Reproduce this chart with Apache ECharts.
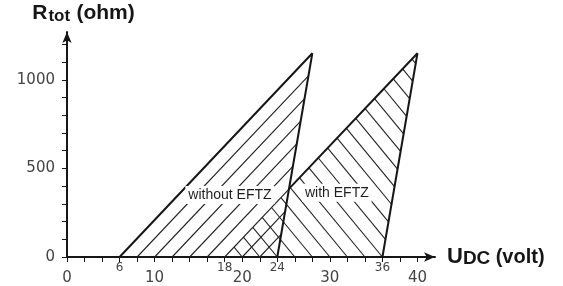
<!DOCTYPE html>
<html>
<head>
<meta charset="utf-8">
<script src="https://cdn.jsdelivr.net/npm/echarts@6/dist/echarts.min.js"></script>
<style>
  html, body { margin: 0; padding: 0; background: #fff; }
  #main { width: 563px; height: 286px; }
</style>
</head>
<body>
<div id="main"></div>
<script>
// triangle corners (volt, ohm)
var withoutEftz = [[6, 0], [28, 1150], [24, 0]];
var withEftz = [[18, 0], [40, 1150], [36, 0]];
// bold outline of the second zone is only drawn outside the first one
var withEftzEdge = [[25.3, 383], [40, 1150], [36, 0]];

var xMainLabels = [0, 10, 20, 30, 40];
var xMarkLabels = [6, 18, 24, 36];
var xTicks = [0, 2, 4, 6, 8, 10, 12, 14, 16, 18, 20, 22, 24, 26, 28, 30, 32, 34, 36, 38, 40];
var yLabels = [0, 500, 1000];
var yTicks = [0, 100, 200, 300, 400, 500, 600, 700, 800, 900, 1000, 1100, 1200];

var zoneNames = ['without EFTZ', 'with EFTZ'];
var zonePos = [[18.6, 350], [30.8, 362]];

var ink = '#161616';

// lines through (b,0) running along dir, cut to a convex polygon
function hatch(poly, dir, from, to, step) {
  var segs = [];
  for (var b = from; b <= to + 1e-9; b += step) {
    var ts = [];
    for (var i = 0; i < poly.length; i++) {
      var p = poly[i], q = poly[(i + 1) % poly.length];
      var ex = q[0] - p[0], ey = q[1] - p[1];
      var den = dir[0] * ey - dir[1] * ex;
      if (Math.abs(den) < 1e-12) continue;
      var wx = p[0] - b, wy = p[1];
      var t = (wx * ey - wy * ex) / den;
      var s = (wx * dir[1] - wy * dir[0]) / den;
      if (s >= -1e-9 && s <= 1 + 1e-9) ts.push(t);
    }
    if (ts.length < 2) continue;
    var t0 = Math.min.apply(null, ts), t1 = Math.max.apply(null, ts);
    if (t1 - t0 < 1e-6) continue;
    segs.push([[b + t0 * dir[0], t0 * dir[1]], [b + t1 * dir[0], t1 * dir[1]]]);
  }
  return segs;
}

function hatchSeries(poly, dir, from, to) {
  return {
    type: 'custom',
    z: 1,
    silent: true,
    data: [poly[0]],
    renderItem: function (params, api) {
      var segs = hatch(poly, dir, from, to, 2);
      return {
        type: 'group',
        children: segs.map(function (sg) {
          var a = api.coord(sg[0]), c = api.coord(sg[1]);
          return {
            type: 'line',
            shape: { x1: a[0], y1: a[1], x2: c[0], y2: c[1] },
            style: { stroke: '#222', lineWidth: 1.1 }
          };
        })
      };
    }
  };
}

function plain(v) { return String(v); }

var chart = echarts.init(document.getElementById('main'));

var option = {
  animation: false,
  backgroundColor: '#fff',
  grid: { left: 67, right: 128, top: 32, bottom: 29 },
  xAxis: [{
    type: 'value', min: 0, max: 42,
    name: '{u|U}{dc|DC} {v|(volt)}',
    nameLocation: 'end', nameGap: 12,
    nameTextStyle: {
      rich: {
        u: { fontFamily: 'Liberation Sans', fontWeight: 'bold', fontSize: 22, color: ink },
        dc: { fontFamily: 'Liberation Sans', fontWeight: 'bold', fontSize: 19, color: ink, padding: [3, 0, 0, 0] },
        v: { fontFamily: 'Liberation Sans', fontWeight: 'bold', fontSize: 20, color: ink, padding: [0, 0, 0, 2] }
      }
    },
    axisLine: { show: true, symbol: ['none', 'arrow'], symbolSize: [7, 11], lineStyle: { color: ink, width: 2 } },
    axisTick: { show: true, customValues: xTicks, length: 5, lineStyle: { color: ink, width: 1 } },
    axisLabel: { customValues: xMainLabels, formatter: plain, margin: 14, fontFamily: 'DejaVu Sans', fontSize: 15, color: '#444' },
    splitLine: { show: false }
  }, {
    type: 'value', min: 0, max: 42, position: 'bottom',
    axisLine: { show: false },
    axisTick: { show: false },
    axisLabel: { customValues: xMarkLabels, formatter: plain, margin: 5, fontFamily: 'DejaVu Sans', fontSize: 12, color: '#444' },
    splitLine: { show: false }
  }],
  yAxis: {
    type: 'value', min: 0, max: 1270,
    name: '{r|R}{t|tot} {o|(ohm)}',
    nameLocation: 'end', nameGap: 7,
    nameTextStyle: {
      padding: [0, 0, 0, 33],
      rich: {
        r: { fontFamily: 'Liberation Sans', fontWeight: 'bold', fontSize: 21, color: ink },
        t: { fontFamily: 'Liberation Sans', fontWeight: 'bold', fontSize: 17, color: ink, padding: [7, 0, 0, 1] },
        o: { fontFamily: 'Liberation Sans', fontWeight: 'bold', fontSize: 21, color: ink, padding: [0, 0, 0, 3] }
      }
    },
    axisLine: { show: true, symbol: ['none', 'arrow'], symbolSize: [7, 11], lineStyle: { color: ink, width: 2 } },
    axisTick: { show: true, customValues: yTicks, length: 5, lineStyle: { color: ink, width: 1 } },
    axisLabel: { customValues: yLabels, formatter: plain, margin: 12, fontFamily: 'DejaVu Sans', fontSize: 15, color: '#444' },
    splitLine: { show: false }
  },
  series: [
    hatchSeries(withoutEftz, [22, 1150], 8, 22),
    hatchSeries(withEftz, [-1, 60], 20, 58),
    {
      type: 'line', data: withoutEftz, symbol: 'none', z: 3, silent: true,
      lineStyle: { color: ink, width: 2 }
    },
    {
      type: 'line', data: withEftzEdge, symbol: 'none', z: 3, silent: true,
      lineStyle: { color: ink, width: 2 }
    },
    {
      type: 'custom', z: 5, silent: true,
      data: zonePos,
      renderItem: function (params, api) {
        var pt = api.coord([api.value(0), api.value(1)]);
        return {
          type: 'text',
          x: pt[0], y: pt[1],
          style: {
            text: zoneNames[params.dataIndex],
            font: '14px "Liberation Sans"',
            fill: '#1e1e1e',
            align: 'center',
            verticalAlign: 'middle',
            backgroundColor: '#fff',
            padding: [2, 3]
          }
        };
      }
    }
  ]
};
chart.setOption(option);
</script>
</body>
</html>
